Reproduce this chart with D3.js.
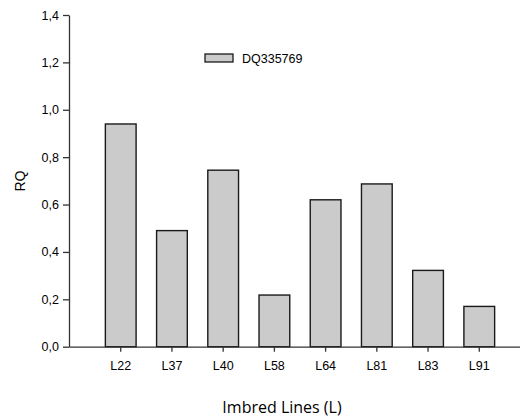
<!DOCTYPE html>
<html>
<head>
<meta charset="utf-8">
<script src="https://cdn.jsdelivr.net/npm/d3@7"></script>
<style>
  body { margin: 0; background: #fff; }
  svg { display: block; }
  .tick text { font-family: "Liberation Sans", Arial, sans-serif; font-size: 12.5px; fill: #000; }
</style>
</head>
<body>
<svg id="chart" width="520" height="419"></svg>
<script>
const lines = ["L22", "L37", "L40", "L58", "L64", "L81", "L83", "L91"];
const rqValues = [0.94, 0.49, 0.745, 0.218, 0.62, 0.687, 0.322, 0.17];
const yTicks = [0, 0.2, 0.4, 0.6, 0.8, 1.0, 1.2, 1.4];
const seriesName = "DQ335769";

const svg = d3.select("#chart");

const xScale = d3.scaleBand()
  .domain(lines)
  .range([69, 531])
  .paddingInner(0.4)
  .paddingOuter(0.71);

const yScale = d3.scaleLinear()
  .domain([0, 1.4])
  .range([346.7, 15]);

const fmt = d => d3.format(".1f")(d).replace(".", ",");

// bars
svg.append("g")
  .selectAll("rect")
  .data(lines)
  .enter()
  .append("rect")
  .attr("x", d => xScale(d))
  .attr("width", xScale.bandwidth())
  .attr("y", (d, i) => yScale(rqValues[i]))
  .attr("height", (d, i) => yScale(0) - yScale(rqValues[i]))
  .attr("fill", "#cbcbcb")
  .attr("stroke", "#1a1a1a")
  .attr("stroke-width", 1.4);

// axes
const yAxis = svg.append("g")
  .attr("transform", "translate(69,0)")
  .call(d3.axisLeft(yScale).tickValues(yTicks).tickFormat(fmt).tickSize(6).tickSizeOuter(0).tickPadding(4));

const xAxis = svg.append("g")
  .attr("transform", "translate(0," + yScale(0) + ")")
  .call(d3.axisBottom(xScale).tickSize(5).tickSizeOuter(0).tickPadding(9));

[yAxis, xAxis].forEach(ax => {
  ax.selectAll("path, line").attr("stroke", "#333").attr("stroke-width", 1.3);
});

// legend
const legend = svg.append("g").attr("transform", "translate(205,54)");
legend.append("rect")
  .attr("width", 28)
  .attr("height", 8)
  .attr("fill", "#cbcbcb")
  .attr("stroke", "#1a1a1a")
  .attr("stroke-width", 1.3);
legend.append("text")
  .attr("x", 37)
  .attr("y", 8.5)
  .attr("font-family", "Liberation Sans, Arial, sans-serif")
  .attr("font-size", 12.5)
  .attr("fill", "#000")
  .text(seriesName);

// axis titles
svg.append("text")
  .attr("transform", "translate(25,181) rotate(-90)")
  .attr("text-anchor", "middle")
  .attr("font-family", "Liberation Sans, Arial, sans-serif")
  .attr("font-size", 14)
  .attr("fill", "#000")
  .text("RQ");

svg.append("text")
  .attr("x", 282)
  .attr("y", 413)
  .attr("text-anchor", "middle")
  .attr("font-family", "Open Sans, sans-serif")
  .attr("font-size", 16)
  .attr("fill", "#000")
  .text("Imbred Lines (L)");
</script>
</body>
</html>
